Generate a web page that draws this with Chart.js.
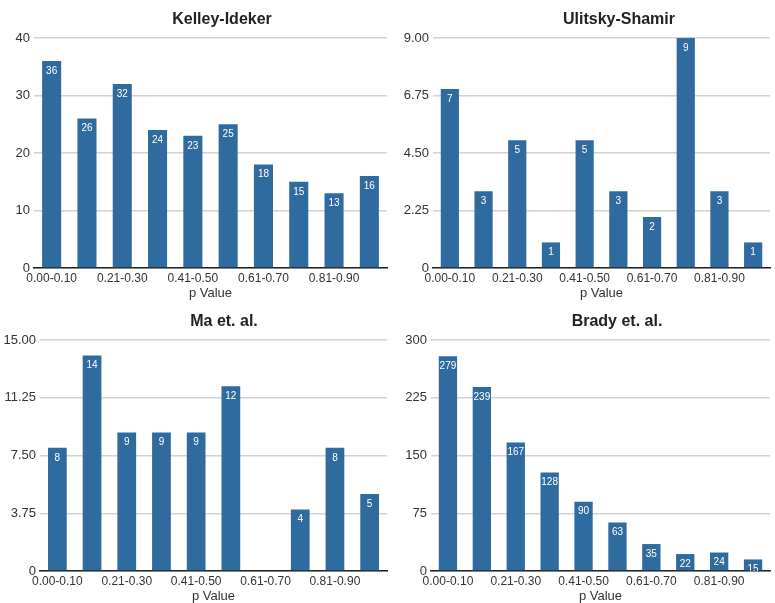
<!DOCTYPE html>
<html>
<head>
<meta charset="utf-8">
<script src="https://cdn.jsdelivr.net/npm/chart.js@4.4.0/dist/chart.umd.min.js"></script>
<style>
  body { margin: 0; background: #fff; }
  canvas { position: absolute; }
</style>
</head>
<body>
<canvas id="c1" width="390" height="300" style="left:0;top:0"></canvas>
<canvas id="c2" width="385" height="300" style="left:390px;top:0"></canvas>
<canvas id="c3" width="390" height="303" style="left:0;top:300px"></canvas>
<canvas id="c4" width="385" height="303" style="left:390px;top:300px"></canvas>
<script>
  var categories = ['0.00-0.10', '0.11-0.20', '0.21-0.30', '0.31-0.40', '0.41-0.50',
                    '0.51-0.60', '0.61-0.70', '0.71-0.80', '0.81-0.90', '0.91-1.00'];

  var kelleyValues = [36, 26, 32, 24, 23, 25, 18, 15, 13, 16];
  var ulitskyValues = [7, 3, 5, 1, 5, 3, 2, 9, 3, 1];
  var maValues = [8, 14, 9, 9, 9, 12, 0, 4, 8, 5];
  var bradyValues = [279, 239, 167, 128, 90, 63, 35, 22, 24, 15];

  var kelleyTicks = ['0', '10', '20', '30', '40'];
  var ulitskyTicks = ['0', '2.25', '4.50', '6.75', '9.00'];
  var maTicks = ['0', '3.75', '7.50', '11.25', '15.00'];
  var bradyTicks = ['0', '75', '150', '225', '300'];

  var barColor = '#2f6b9f';
  var font = 'Liberation Sans, Arial, Helvetica, sans-serif';

  // titre + valeurs dans les barres
  var barLabels = {
    id: 'barLabels',
    afterDatasetsDraw: function(chart, args, opts) {
      var ctx = chart.ctx;
      var area = chart.chartArea;
      var meta = chart.getDatasetMeta(0);
      var data = chart.data.datasets[0].data;
      ctx.save();
      ctx.beginPath();
      ctx.rect(area.left, area.top, area.right - area.left, area.bottom - area.top);
      ctx.clip();
      ctx.fillStyle = '#fff';
      ctx.font = '10px ' + font;
      ctx.textAlign = 'center';
      ctx.textBaseline = 'middle';
      meta.data.forEach(function(bar, i) {
        if (!data[i]) return;
        ctx.fillText(String(data[i]), bar.x, bar.y + 10);
      });
      ctx.restore();

      ctx.save();
      ctx.fillStyle = '#222';
      ctx.font = 'bold 16px ' + font;
      ctx.textAlign = 'center';
      ctx.textBaseline = 'middle';
      ctx.fillText(opts.text, opts.x, area.top - 18);
      ctx.restore();
    }
  };

  function makeChart(id, title, titleX, values, tickLabels, maxVal, axisWidth, padTop, padRight) {
    var step = maxVal / (tickLabels.length - 1);
    return new Chart(document.getElementById(id).getContext('2d'), {
      type: 'bar',
      data: {
        labels: categories,
        datasets: [{
          data: values,
          backgroundColor: barColor,
          borderWidth: 0,
          barPercentage: 0.54,
          categoryPercentage: 1
        }]
      },
      options: {
        responsive: false,
        animation: false,
        layout: { padding: { top: padTop, right: padRight, left: 0, bottom: 0 } },
        plugins: {
          legend: { display: false },
          tooltip: { enabled: false },
          barLabels: { text: title, x: titleX }
        },
        scales: {
          x: {
            grid: { display: false, drawTicks: false },
            border: { display: true, color: '#222', width: 1.5 },
            ticks: {
              color: '#333',
              font: { family: font, size: 12, lineHeight: 1 },
              padding: 5,
              maxRotation: 0,
              autoSkip: false,
              callback: function(v, i) { return i % 2 === 0 ? categories[i] : ''; }
            },
            title: {
              display: true,
              text: 'p Value',
              color: '#333',
              font: { family: font, size: 13, lineHeight: 1 },
              padding: { top: 5, bottom: 0 }
            },
            afterFit: function(scale) { scale.height = 32; }
          },
          y: {
            min: 0,
            max: maxVal,
            grid: { color: '#d2d2d2', lineWidth: 1.5, drawTicks: false },
            border: { display: false },
            ticks: {
              stepSize: step,
              color: '#333',
              font: { family: font, size: 13 },
              padding: 4,
              callback: function(v) { return tickLabels[Math.round(v / step)]; }
            },
            afterFit: function(scale) { scale.width = axisWidth; }
          }
        }
      },
      plugins: [barLabels]
    });
  }

  window.onload = function() {
    makeChart('c1', 'Kelley-Ideker', 222, kelleyValues, kelleyTicks, 40, 34, 38, 3);
    makeChart('c2', 'Ulitsky-Shamir', 229, ulitskyValues, ulitskyTicks, 9, 43, 38, 5);
    makeChart('c3', 'Ma et. al.', 224, maValues, maTicks, 15, 40, 40, 3);
    makeChart('c4', 'Brady et. al.', 227, bradyValues, bradyTicks, 300, 41, 40, 5);
  };
</script>
</body>
</html>
